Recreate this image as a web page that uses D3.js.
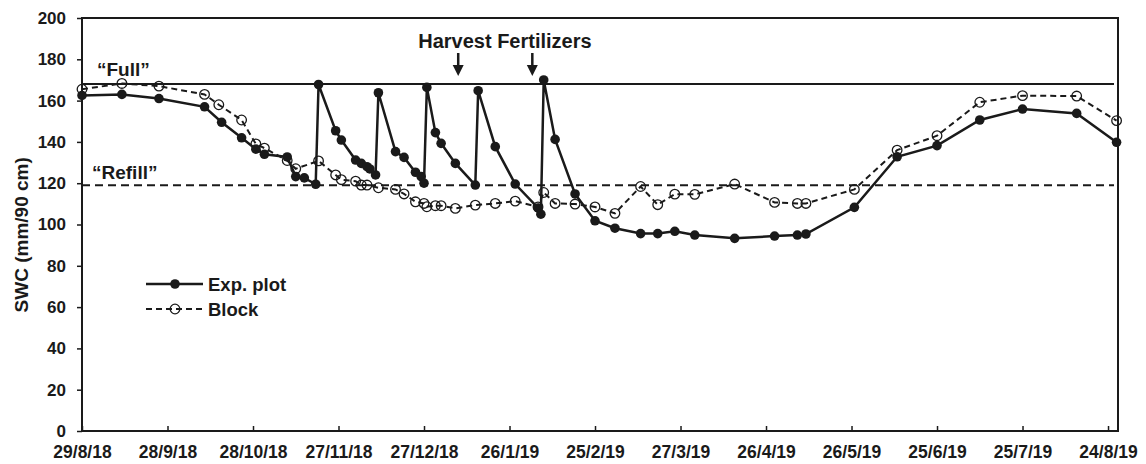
<!DOCTYPE html>
<head>
  <meta charset="utf-8">
  <script src="https://d3js.org/d3.v7.min.js"></script>
  <style>
body { margin: 0; background: white; }
svg { display: block; background-color: white; }
text { font-family: 'Liberation Sans', Arial, sans-serif; font-weight: bold; fill: #1a1a1a; }
  </style>
</head>

<body>
<svg width="1146" height="464"></svg>

<script>
// Exp. plot (solid line, filled circles)
var expDates = ["29/8/18","12/9/18","25/9/18","11/10/18","17/10/18","24/10/18","29/10/18","1/11/18",
  "9/11/18","12/11/18","15/11/18","19/11/18","20/11/18","26/11/18","28/11/18","3/12/18","5/12/18",
  "7/12/18","8/12/18","10/12/18","11/12/18","17/12/18","20/12/18","24/12/18","26/12/18","27/12/18",
  "28/12/18","31/12/18","2/1/19","7/1/19","14/1/19","15/1/19","21/1/19","28/1/19","5/2/19","6/2/19",
  "7/2/19","11/2/19","18/2/19","25/2/19","4/3/19","13/3/19","19/3/19","25/3/19","1/4/19","15/4/19",
  "29/4/19","7/5/19","10/5/19","27/5/19","11/6/19","25/6/19","10/7/19","25/7/19","13/8/19","27/8/19"];
var expValues = [162.5,163,161,157,149.5,142,136.5,134,
  132.7,123.2,122.6,119.5,167.8,145.4,140.9,131.2,129.6,
  128,126.9,124,163.8,135.3,132.5,125.3,123.2,120,
  166.4,144.5,139.3,129.6,119.1,164.8,137.7,119.6,108,105,
  170,141.2,114.8,101.8,98.2,95.6,95.6,96.7,94.9,93.3,
  94.4,94.9,95.4,108.3,132.8,138.2,150.6,155.9,153.8,139.8];

// Block (dashed line, open circles)
var blockDates = ["29/8/18","12/9/18","25/9/18","11/10/18","16/10/18","24/10/18","29/10/18","1/11/18",
  "9/11/18","12/11/18","20/11/18","26/11/18","28/11/18","3/12/18","5/12/18","7/12/18","11/12/18",
  "17/12/18","20/12/18","24/12/18","27/12/18","28/12/18","31/12/18","2/1/19","7/1/19","14/1/19",
  "21/1/19","28/1/19","5/2/19","7/2/19","11/2/19","18/2/19","25/2/19","4/3/19","13/3/19","19/3/19",
  "25/3/19","1/4/19","15/4/19","29/4/19","7/5/19","10/5/19","27/5/19","11/6/19","25/6/19","10/7/19",
  "25/7/19","13/8/19","27/8/19"];
var blockValues = [165.5,168.3,167,163,158,150.6,139,137,
  131,127,130.8,124,121.7,121,119.1,119.1,117.8,
  117,114.8,111,110.2,108.6,109.1,109.1,107.8,109.4,
  110.2,111.3,108.5,115.5,110.2,109.9,108.5,105.4,118.4,109.6,
  114.7,114.6,119.6,110.7,110.2,110.2,117,136,143,159.2,
  162.4,162.2,150.3];

var xTickLabels = ["29/8/18","28/9/18","28/10/18","27/11/18","27/12/18","26/1/19","25/2/19",
  "27/3/19","26/4/19","26/5/19","25/6/19","25/7/19","24/8/19"];
var yTicks = [0,20,40,60,80,100,120,140,160,180,200];

var fullLevel = 168;
var refillLevel = 119;
var eventDates = ["8/1/19","3/2/19"];

var parse = d3.timeParse("%d/%m/%y");
var ink = "#1a1a1a";

var margin = {top: 18, right: 28, bottom: 33, left: 82};
var svgW = 1146, svgH = 464;

var x = d3.scaleTime()
          .domain([parse("29/8/18"), new Date(2019, 7, 27, 12)])
          .range([margin.left, svgW - margin.right]);
var y = d3.scaleLinear()
          .domain([0, 200])
          .range([svgH - margin.bottom, margin.top]);

var svg = d3.select("svg");

var expData = expDates.map(function(d, i) { return {date: parse(d), value: expValues[i]}; });
var blockData = blockDates.map(function(d, i) { return {date: parse(d), value: blockValues[i]}; });

// reference lines
svg.append("line")
   .attr("x1", x.range()[0]).attr("x2", x.range()[1] - 4)
   .attr("y1", y(fullLevel)).attr("y2", y(fullLevel))
   .style("stroke", ink).style("stroke-width", 2);
svg.append("line")
   .attr("x1", x.range()[0]).attr("x2", x.range()[1] - 4)
   .attr("y1", y(refillLevel)).attr("y2", y(refillLevel))
   .style("stroke", ink).style("stroke-width", 2).style("stroke-dasharray", "8,5");

svg.append("text").attr("x", 97).attr("y", y(fullLevel) - 8)
   .style("font-size", "19px").text("\u201CFull\u201D");
svg.append("text").attr("x", 92).attr("y", y(refillLevel) - 6)
   .style("font-size", "19px").text("\u201CRefill\u201D");

var line = d3.line()
             .x(function(d) { return x(d.date); })
             .y(function(d) { return y(d.value); });

svg.append("path").datum(blockData)
   .attr("d", line)
   .style("fill", "none").style("stroke", ink)
   .style("stroke-width", 2).style("stroke-dasharray", "6,4");

svg.selectAll(".block-pt")
   .data(blockData)
   .enter()
   .append("circle")
   .attr("class", "block-pt")
   .attr("cx", function(d) { return x(d.date); })
   .attr("cy", function(d) { return y(d.value); })
   .attr("r", 4.8)
   .style("fill", "none").style("stroke", ink).style("stroke-width", 1.3);

svg.append("path").datum(expData)
   .attr("d", line)
   .style("fill", "none").style("stroke", ink).style("stroke-width", 2.5);

svg.selectAll(".exp-pt")
   .data(expData)
   .enter()
   .append("circle")
   .attr("class", "exp-pt")
   .attr("cx", function(d) { return x(d.date); })
   .attr("cy", function(d) { return y(d.value); })
   .attr("r", 4.8)
   .style("fill", ink);

// plot frame
svg.append("rect")
   .attr("x", margin.left).attr("y", margin.top)
   .attr("width", x.range()[1] - margin.left)
   .attr("height", y(0) - margin.top)
   .style("fill", "none").style("stroke", ink).style("stroke-width", 2);

// y axis
var yAxis = svg.append("g")
   .attr("transform", "translate(" + margin.left + ",0)")
   .call(d3.axisLeft(y).tickValues(yTicks).tickSize(5).tickPadding(11));
yAxis.select(".domain").remove();
yAxis.selectAll("line").style("stroke", ink).style("stroke-width", 1.5);
yAxis.selectAll("text").style("font-size", "17px").style("font-family", null).attr("fill", null);

// x axis, ticks pointing inward
var xAxis = svg.append("g")
   .attr("transform", "translate(0," + y(0) + ")")
   .call(d3.axisTop(x)
     .tickValues(xTickLabels.map(parse))
     .tickFormat(function(d, i) { return xTickLabels[i]; })
     .tickSize(5));
xAxis.select(".domain").remove();
xAxis.selectAll("line").style("stroke", ink).style("stroke-width", 1.5);
xAxis.selectAll("text")
   .attr("y", 27).attr("dy", null)
   .style("font-size", "17.5px").style("font-family", null).attr("fill", null);

svg.append("text")
   .attr("transform", "translate(28," + (y(95)) + ") rotate(-90)")
   .attr("text-anchor", "middle")
   .style("font-size", "19px")
   .text("SWC (mm/90 cm)");

// events
eventDates.forEach(function(d) {
  var ex = x(parse(d));
  svg.append("line").attr("x1", ex).attr("x2", ex).attr("y1", 53).attr("y2", 67)
     .style("stroke", ink).style("stroke-width", 2.5);
  svg.append("path")
     .attr("d", "M" + (ex - 5.5) + ",65 L" + (ex + 5.5) + ",65 L" + ex + ",76 Z")
     .style("fill", ink);
});
svg.append("text")
   .attr("x", x(parse(eventDates[0])) - 40).attr("y", 48)
   .style("font-size", "20px")
   .text("Harvest Fertilizers");

// legend
var legend = svg.append("g").attr("transform", "translate(146,284)");
legend.append("line").attr("x1", 0).attr("x2", 57).attr("y1", 0).attr("y2", 0)
   .style("stroke", ink).style("stroke-width", 2.5);
legend.append("circle").attr("cx", 29).attr("cy", 0).attr("r", 4.8).style("fill", ink);
legend.append("text").attr("x", 62).attr("y", 7).style("font-size", "18.5px").text("Exp. plot");
legend.append("line").attr("x1", 0).attr("x2", 57).attr("y1", 25).attr("y2", 25)
   .style("stroke", ink).style("stroke-width", 2).style("stroke-dasharray", "6,4");
legend.append("circle").attr("cx", 29).attr("cy", 25).attr("r", 4.8)
   .style("fill", "none").style("stroke", ink).style("stroke-width", 1.3);
legend.append("text").attr("x", 62).attr("y", 32).style("font-size", "18.5px").text("Block");
</script>
</body>
</html>
